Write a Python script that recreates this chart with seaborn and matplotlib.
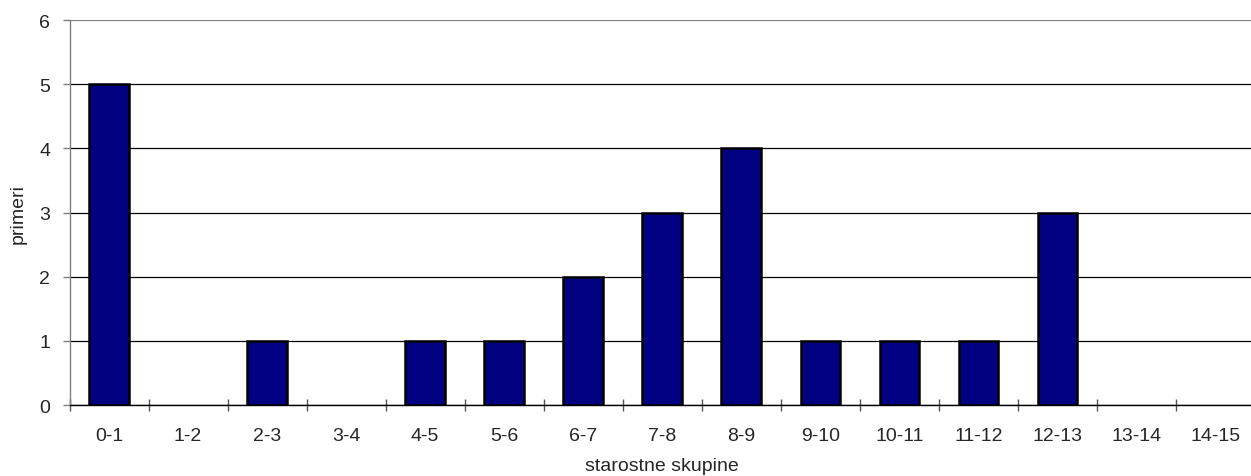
import pandas as pd
import matplotlib.pyplot as plt
import seaborn as sns

# Data
groups = ['0-1', '1-2', '2-3', '3-4', '4-5', '5-6', '6-7', '7-8',
          '8-9', '9-10', '10-11', '11-12', '12-13', '13-14', '14-15']
counts = [5, 0, 1, 0, 1, 1, 2, 3, 4, 1, 1, 1, 3, 0, 0]
y_ticks = [0, 1, 2, 3, 4, 5, 6]

df = pd.DataFrame({'skupina': groups, 'primeri': counts})

sns.set_style('white')
plt.rcParams['font.family'] = ['Liberation Sans', 'DejaVu Sans']

fig = plt.figure(figsize=(12.51, 4.77), dpi=100)
ax = fig.add_axes([0.0556, 0.1488, 0.9475, 0.807])

sns.barplot(data=df, x='skupina', y='primeri', color='#000080', width=0.5,
            edgecolor='black', linewidth=1.8, saturation=1, ax=ax, zorder=3)

# empty groups show no bar at all
for p, v in zip(ax.patches, counts):
    if v == 0:
        p.set_visible(False)

ax.set_xlim(-0.5, len(groups) - 0.5)
ax.set_ylim(0, 6)
ax.set_yticks(y_ticks)
ax.yaxis.grid(True, color='black', linewidth=0.9, zorder=0)
ax.set_axisbelow(True)
ax.get_ygridlines()[-1].set_color('#808080')  # top border line is grey

for s in ['top', 'right']:
    ax.spines[s].set_visible(False)
ax.spines['left'].set_color('#808080')
ax.spines['bottom'].set_color('black')
ax.spines['left'].set_linewidth(1)
ax.spines['bottom'].set_linewidth(1)

# tick marks at the category boundaries
ax.set_xticks([i - 0.5 for i in range(len(groups) + 1)], minor=True)
ax.tick_params(axis='x', which='minor', bottom=True, direction='inout',
               length=9, width=1, color='#555555')
ax.tick_params(axis='x', which='major', bottom=True, length=0,
               labelsize=14, pad=16)
ax.tick_params(axis='y', direction='out', length=5, width=1,
               color='#808080', labelsize=14, left=True, pad=9)

ax.set_xlabel('starostne skupine', fontsize=14, labelpad=9)
ax.set_ylabel('primeri', fontsize=14, labelpad=9)

fig.savefig('out.png', dpi=100)
